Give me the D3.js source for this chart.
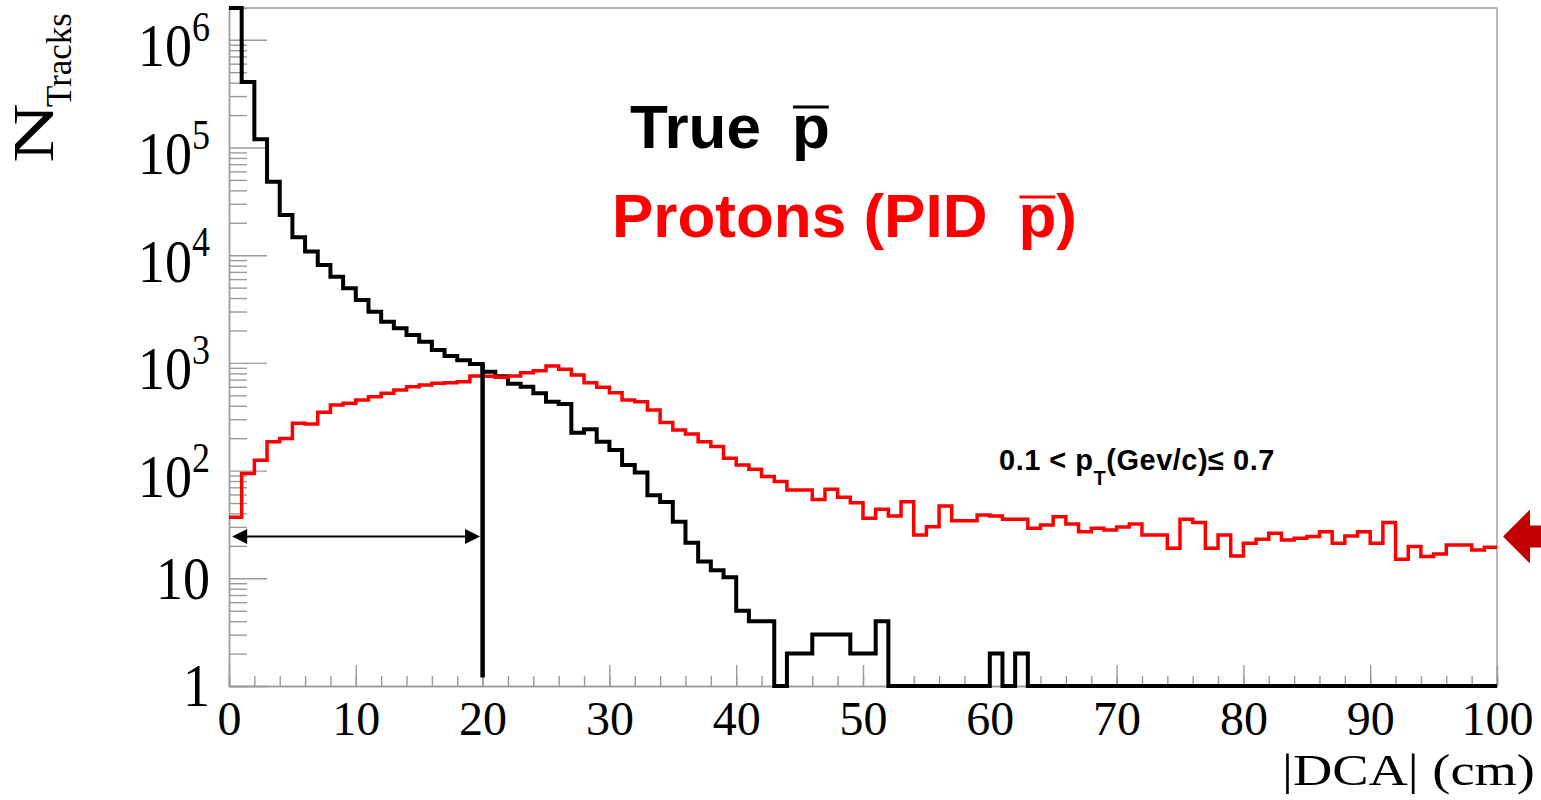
<!DOCTYPE html>
<html>
<head>
<meta charset="utf-8">
<script src="https://cdn.jsdelivr.net/npm/d3@7"></script>
<style>
  body { margin: 0; background: #fff; }
  svg { display: block; }
</style>
</head>
<body>
<svg id="chart" width="1541" height="800"></svg>
<script>
// |DCA| binning: 100 bins of 1 cm from 0 to 100 cm
const binEdges = d3.range(0, 101, 1);

// True anti-protons (black histogram), tracks per bin
const trueAntiProton = [
  1.973e6, 4.06e5, 1.19e5, 4.82e4, 2.36e4, 1.47e4, 1.08e4, 8110, 6310, 4930,
  3840, 2990, 2410, 2100, 1820, 1570, 1320, 1160, 1060, 977,
  829, 750, 640, 601, 522, 436, 415, 225, 242, 185,
  155, 113, 96, 59, 51, 33.5, 21.4, 14.3, 11.9, 10.2,
  5, 4, 4, 0, 2, 2, 3, 3, 3, 2,
  2, 4, 0, 0, 0, 0, 0, 0, 0, 0,
  2, 0, 2, 0, 0, 0, 0, 0, 0, 0,
  0, 0, 0, 0, 0, 0, 0, 0, 0, 0,
  0, 0, 0, 0, 0, 0, 0, 0, 0, 0,
  0, 0, 0, 0, 0, 0, 0, 0, 0, 0
];

// Protons identified as anti-protons (red histogram), tracks per bin
const pidAntiProton = [
  36.8, 94, 125, 185, 199, 275, 271, 348, 406, 422,
  453, 486, 522, 560, 601, 624, 646, 655, 669, 756,
  750, 735, 756, 811, 847, 936, 872, 772, 655, 593,
  529, 453, 436, 366, 279, 238, 219, 185, 167, 130,
  113, 103, 88, 79, 66, 66, 54, 67, 56.5, 50.3,
  36.1, 43.7, 37.9, 51.4, 25.2, 30.1, 46.9, 34.3, 34.3, 38.7,
  37.9, 35.3, 35.3, 29.1, 31.3, 37.3, 31.9, 27.1, 29.1, 28.1,
  30, 32, 25.2, 25.2, 19, 35.3, 32.9, 19, 25.2, 16.1,
  21.1, 23, 26.2, 22.7, 23.5, 24.4, 27.1, 21.1, 24.7, 27.1,
  21.1, 32.9, 15, 19.7, 15.9, 16.8, 20.4, 20.4, 18.3, 19.4
];

// Axis ticks
const xMajorTicks = d3.range(0, 101, 10);
const xMinorTicks = d3.range(0, 101, 2);
const yMajorExponents = [0, 1, 2, 3, 4, 5, 6];

// Annotations (data units)
const cutDCA = 20;              // selection cut at |DCA| = 20 cm
const cutLineRange = [1000, 1.2];
const rangeArrowLevel = 24.5;
const rangeArrowFrom = 0.25, rangeArrowTo = 19.8;

const svg = d3.select("#chart");
const plot = { left: 229, right: 1497, top: 8, bottom: 686 };
const yMin = 1, yMax = 1.973e6;
const axisGrey = "#9a9a9a";
const redColor = "#ff0000";
const serif = "'Liberation Serif', 'Times New Roman', serif";
const sans = "'Liberation Sans', Arial, Helvetica, sans-serif";

const x = d3.scaleLinear().domain([0, 100]).range([plot.left, plot.right]);
const y = d3.scaleLog().domain([yMin, yMax]).range([plot.bottom, plot.top]);

// Frame (top and right edges)
svg.append("path")
  .attr("d", `M${plot.left},${plot.top}H${plot.right}V${plot.bottom}`)
  .attr("fill", "none").attr("stroke", axisGrey).attr("stroke-width", 1.4);

function styleAxis(g) {
  g.attr("font-family", null).attr("font-size", null);
  g.selectAll("path.domain").attr("stroke", axisGrey).attr("stroke-width", 1.4);
  g.selectAll(".tick line").attr("stroke", axisGrey).attr("stroke-width", 1.4);
}

// X axis: minor ticks every 2 cm, major every 10 cm (pointing inwards)
const gxMinor = svg.append("g").attr("transform", `translate(0,${plot.bottom})`)
  .call(d3.axisBottom(x).tickValues(xMinorTicks).tickSize(-10).tickFormat(""));
styleAxis(gxMinor);
const gxMajor = svg.append("g").attr("transform", `translate(0,${plot.bottom})`)
  .call(d3.axisBottom(x).tickValues(xMajorTicks).tickSize(-21).tickSizeOuter(0)
    .tickPadding(15).tickFormat(d3.format("d")));
styleAxis(gxMajor);
gxMajor.selectAll(".tick text")
  .attr("font-family", serif).attr("font-size", 48).attr("fill", "#000");

// Y axis: log decades with 2..9 minor ticks
const yMajor = yMajorExponents.map(e => Math.pow(10, e));
const yMinor = [];
yMajorExponents.forEach(e => {
  for (let m = 2; m <= 9; m++) {
    const v = m * Math.pow(10, e);
    if (v <= yMax) yMinor.push(v);
  }
});
const gyMinor = svg.append("g").attr("transform", `translate(${plot.left},0)`)
  .call(d3.axisLeft(y).tickValues(yMinor).tickSize(-18).tickFormat(""));
styleAxis(gyMinor);
const gyMajor = svg.append("g").attr("transform", `translate(${plot.left},0)`)
  .call(d3.axisLeft(y).tickValues(yMajor).tickSize(-38).tickSizeOuter(0).tickFormat(""));
styleAxis(gyMajor);

// Y tick labels: 1, 10, 10^2 ... 10^6 (labels with an exponent sit a little lower)
const yLabels = svg.append("g");
yMajorExponents.forEach(e => {
  const shift = e >= 2 ? 6 : 0;
  const t = yLabels.append("text")
    .attr("transform", `translate(210,${y(Math.pow(10, e)) + shift}) scale(1,1.15)`)
    .attr("dy", "0.33em")
    .attr("text-anchor", "end")
    .attr("font-family", serif).attr("font-size", 54).attr("fill", "#000");
  if (e === 0) t.text("1");
  else if (e === 1) t.text("10");
  else {
    t.append("tspan").text("10");
    t.append("tspan").attr("font-size", 36).attr("dy", -22).text(String(e));
  }
});

// Axis titles
svg.append("text")
  .attr("x", 1535).attr("y", 785)
  .attr("text-anchor", "end")
  .attr("font-family", serif).attr("font-size", 44).attr("fill", "#000")
  .attr("textLength", 253).attr("lengthAdjust", "spacingAndGlyphs")
  .text("|DCA| (cm)");

svg.append("text")
  .attr("transform", "translate(53,163) rotate(-90)")
  .attr("font-family", serif).attr("font-size", 58).attr("fill", "#000")
  .attr("textLength", 60).attr("lengthAdjust", "spacingAndGlyphs")
  .text("N");
svg.append("text")
  .attr("transform", "translate(71,107) rotate(-90)")
  .attr("font-family", serif).attr("font-size", 35).attr("fill", "#000")
  .text("Tracks");

// Histogram outlines
function stepPoints(vals) {
  const pts = [];
  vals.forEach((v, i) => {
    const c = Math.min(Math.max(v, yMin), yMax);
    pts.push([binEdges[i], c], [binEdges[i + 1], c]);
  });
  return pts;
}
const histLine = d3.line().x(d => x(d[0])).y(d => y(d[1]));

svg.append("path")
  .datum(stepPoints(trueAntiProton))
  .attr("d", histLine)
  .attr("fill", "none").attr("stroke", "#000")
  .attr("stroke-width", 4).attr("stroke-linejoin", "miter");

svg.append("path")
  .datum(stepPoints(pidAntiProton))
  .attr("d", histLine)
  .attr("fill", "none").attr("stroke", redColor)
  .attr("stroke-width", 3.5).attr("stroke-linejoin", "miter");

// Cut line at |DCA| = 20 cm
svg.append("line")
  .attr("x1", x(cutDCA)).attr("x2", x(cutDCA))
  .attr("y1", y(cutLineRange[0])).attr("y2", y(cutLineRange[1]))
  .attr("stroke", "#000").attr("stroke-width", 4.5);

// Double-headed range arrow from 0 to the cut
const ay = y(rangeArrowLevel);
const ax0 = x(rangeArrowFrom), ax1 = x(rangeArrowTo);
const headL = 15, headW = 7.5;
svg.append("line")
  .attr("x1", ax0 + headL - 2).attr("x2", ax1 - headL + 2)
  .attr("y1", ay).attr("y2", ay)
  .attr("stroke", "#000").attr("stroke-width", 2);
svg.append("path")
  .attr("d", `M${ax0},${ay}L${ax0 + headL},${ay - headW}L${ax0 + headL},${ay + headW}Z` +
             `M${ax1},${ay}L${ax1 - headL},${ay - headW}L${ax1 - headL},${ay + headW}Z`)
  .attr("fill", "#000");

// Block arrow in the right margin
svg.append("path")
  .attr("d", `M1503,${ay}L1530,${ay - 27}L1530,${ay - 11}L1545,${ay - 11}L1545,${ay + 11}L1530,${ay + 11}L1530,${ay + 27}Z`)
  .attr("fill", "#c00000");

// Legend-style labels with barred p
function barredLabel(parts, color, bx, by, size, barY) {
  const t = svg.append("text")
    .attr("x", bx).attr("y", by)
    .attr("font-family", sans).attr("font-weight", "bold")
    .attr("font-size", size).attr("fill", color);
  t.append("tspan").text(parts[0]);
  t.append("tspan").attr("dx", "0.5em").text("p");
  if (parts[1]) t.append("tspan").text(parts[1]);
  const node = t.node();
  const idx = parts[0].length;
  const s = node.getStartPositionOfChar(idx);
  const e = node.getEndPositionOfChar(idx);
  svg.append("line")
    .attr("x1", s.x + 1).attr("x2", e.x - 1)
    .attr("y1", barY).attr("y2", barY)
    .attr("stroke", color).attr("stroke-width", 3);
}
barredLabel(["True"], "#000", 630, 148, 62, 107);
barredLabel(["Protons (PID", ")"], redColor, 612, 237, 62, 197);

// Transverse-momentum range
const pt = svg.append("text")
  .attr("x", 999).attr("y", 470)
  .attr("font-family", sans).attr("font-weight", "bold")
  .attr("font-size", 29).attr("letter-spacing", 0.5).attr("fill", "#000");
pt.append("tspan").text("0.1 < p");
pt.append("tspan").attr("font-size", 20).attr("dy", 15).text("T");
pt.append("tspan").attr("dy", -15).text("(Gev/c)\u2264 0.7");
</script>
</body>
</html>
